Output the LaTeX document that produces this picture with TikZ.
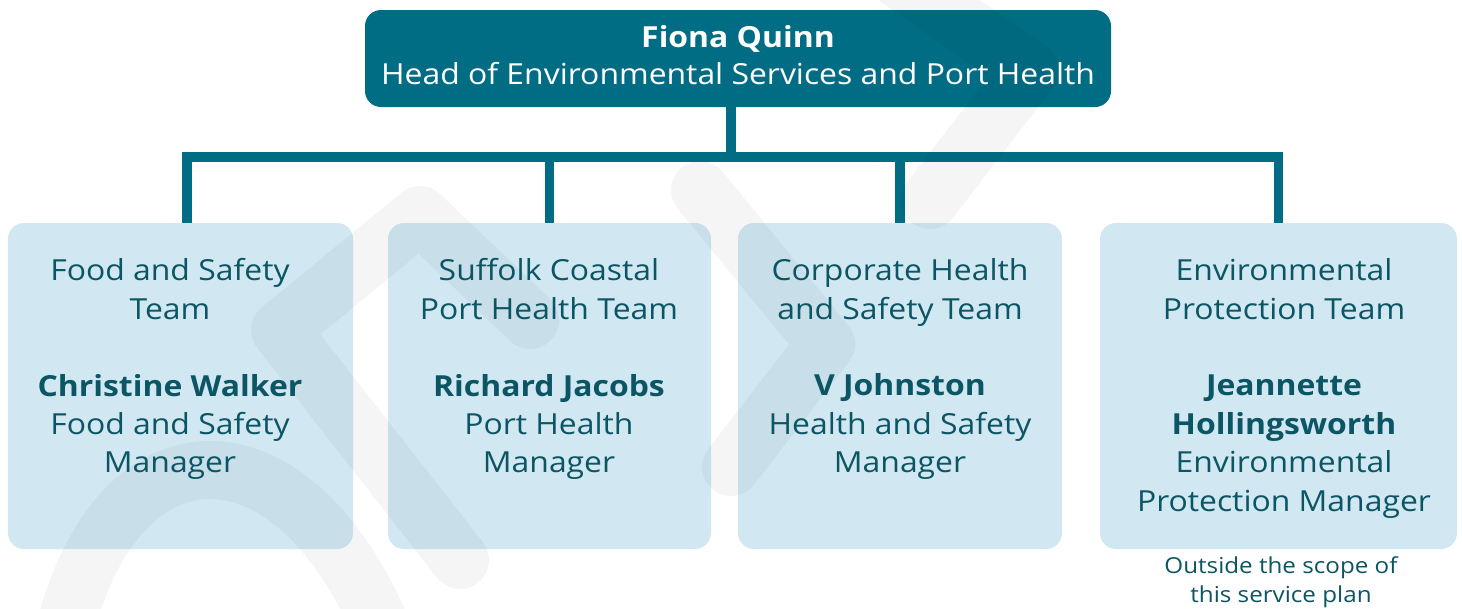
\documentclass[tikz,border=0pt]{standalone}
\usepackage{fontspec}
\setmainfont{Open Sans}[FakeStretch=1.1]
\definecolor{headteal}{HTML}{016D85}
\definecolor{boxblue}{HTML}{D1E8F2}
\definecolor{txtteal}{HTML}{0B5564}
\begin{document}
\begin{tikzpicture}[x=1pt,y=-1pt,
  headbox/.style={fill=headteal, rounded corners=16pt, minimum width=746pt, minimum height=97pt, inner sep=0pt},
  headtext/.style={text=white, align=center, font=\fontsize{29}{37}\selectfont, inner sep=0pt},
  teambox/.style={fill=boxblue, rounded corners=16pt, minimum height=326pt, inner sep=0pt},
  teamtext/.style={text=txtteal, align=center, font=\fontsize{29}{38.4}\selectfont, anchor=north, inner sep=0pt},
  notetext/.style={text=txtteal, align=center, font=\fontsize{22}{29}\selectfont, inner sep=0pt},
  conn/.style={draw=headteal, line width=9.5pt},
  wmark/.style={draw=black, draw opacity=0.04, line width=58pt, line cap=round, line join=round}]
\useasboundingbox (0,0) rectangle (1462,608);
\fill[white] (0,0) rectangle (1462,608);
% boxes
\node[headbox] (head) at (738,58.5) {};
\node[teambox, minimum width=345pt] (b1) at (180.5,386) {};
\node[teambox, minimum width=323pt] (b2) at (549.5,386) {};
\node[teambox, minimum width=324pt] (b3) at (900,386) {};
\node[teambox, minimum width=357pt] (b4) at (1278.5,386) {};
% connectors
\coordinate (bar) at (0,157);
\draw[conn] ([xshift=-7pt]head.south) -- ([xshift=-7pt]head.south |- bar);
\draw[conn] ([xshift=6.5pt]b1.north) -- ([xshift=6.5pt]b1.north |- bar) -- (b4.north |- bar) -- (b4.north);
\draw[conn] (b2.north) -- (b2.north |- bar);
\draw[conn] (b3.north) -- (b3.north |- bar);
% watermark
\draw[wmark] (60,650) .. controls (110,410) and (300,410) .. (390,650);
\draw[wmark] (460,560) -- (280,330) -- (420,215) -- (530,320);
\draw[wmark] (700,190) -- (826,344) -- (731,467);
\draw[wmark] (900,-20) -- (1030,70) -- (930,200);
% texts
\node[headtext] (ht) at (head.center) [yshift=3pt] {\textbf{Fiona Quinn}\\Head of Environmental Services and Port Health};
\node[teamtext] (t1) at (170,258.5) {Food and Safety\\Team\\[38.4pt]\textbf{Christine Walker}\\Food and Safety\\Manager};
\node[teamtext] (t2) at (549,258.5) {Suffolk Coastal\\Port Health Team\\[38.4pt]\textbf{Richard Jacobs}\\Port Health\\Manager};
\node[teamtext] (t3) at (900,258.5) {Corporate Health\\and Safety Team\\[38.4pt]\textbf{V Johnston}\\Health and Safety\\Manager};
\node[teamtext] (t4) at (1284,258.5) {Environmental\\Protection Team\\[38.4pt]\textbf{Jeannette}\\\textbf{Hollingsworth}\\Environmental\\Protection Manager};
\node[notetext] (note) at (1281,582) {Outside the scope of\\this service plan};
\end{tikzpicture}
\end{document}
